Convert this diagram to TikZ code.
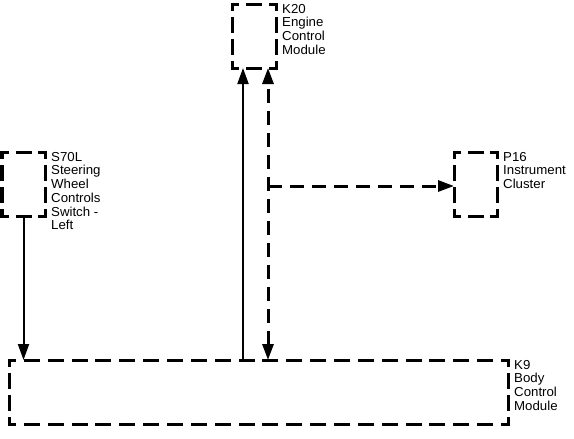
\documentclass[tikz,border=0pt]{standalone}
\usepackage{fontspec}
\setmainfont{Liberation Sans}[FakeStretch=1.02]
\usetikzlibrary{arrows.meta,calc}
\tikzset{mytip/.tip={Triangle[length=16pt,width=11pt]}}
\newcommand\dside[3]{%
  \pgfmathsetmacro\nd{max(0,round((#3-22)/24))}%
  \pgfmathsetmacro\gp{(#3-14-\nd*16)/(\nd+1)+3}%
  \draw[boxline, dash pattern=on 13pt off \gp pt, dash phase=7.5pt] (#1) -- (#2);}
\newcommand\dbox[3]{%
  \dside{#1.north west}{#1.north east}{#2}%
  \dside{#1.north east}{#1.south east}{#3}%
  \dside{#1.south west}{#1.south east}{#2}%
  \dside{#1.north west}{#1.south west}{#3}}
\begin{document}
\begin{tikzpicture}[x=1pt,y=-1pt,
  boxline/.style={line width=3pt, line cap=rect},
  mod/.style={inner sep=0pt, outer sep=0pt},
  lbl/.style={anchor=north west, inner sep=0pt, align=left, xshift=6pt,
    font=\fontsize{13pt}{13.7pt}\selectfont},
  solidline/.style={line width=2pt, -{mytip}},
  dline/.style={line width=3pt, dash pattern=on 14pt off 8pt}]
\useasboundingbox (0,0) rectangle (574,439);
% modules
\node[mod, minimum width=44pt, minimum height=64pt] (k20) at (254,36) {};
\node[mod, minimum width=43pt, minimum height=64pt] (s70l) at (23.5,184) {};
\node[mod, minimum width=43pt, minimum height=64pt] (p16) at (475.5,184) {};
\node[mod, minimum width=499pt, minimum height=64pt] (k9) at (258.5,392) {};
\dbox{k20}{44}{64}
\dbox{s70l}{43}{64}
\dbox{p16}{43}{64}
\dbox{k9}{499}{64}
% labels
\node[lbl] (k20l) at (k20.north east) {K20\\Engine\\Control\\Module};
\node[lbl] (s70ll) at (s70l.north east) {S70L\\Steering\\Wheel\\Controls\\Switch -\\Left};
\node[lbl] (p16l) at (p16.north east) {P16\\Instrument\\Cluster};
\node[lbl] (k9l) at (k9.north east) {K9\\Body\\Control\\Module};
% connectors
\coordinate (a) at (243,0);
\coordinate (b) at (268,0);
\coordinate (j) at (268,186);
\draw[solidline] (s70l.south) -- (s70l.south |- k9.north);
\draw[solidline] (a |- k9.north) -- (a |- k20.south);
\draw[dline, {mytip}-{mytip}] (b |- k9.north) -- (b |- k20.south);
\draw[dline, -{mytip}] (j) -- (j -| p16.west);
\end{tikzpicture}
\end{document}
